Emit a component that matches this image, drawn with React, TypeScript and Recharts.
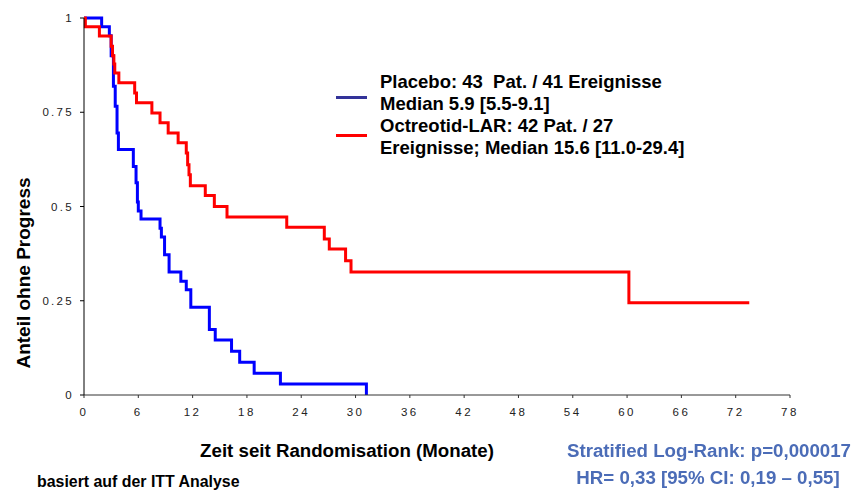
import React from "react";
import { LineChart, Line, XAxis, YAxis, Legend } from "recharts";

// Kaplan-Meier steps (months, share without progression)
const placeboMonths = [
  0, 1.95, 2.8, 3.0, 3.25, 3.45, 3.65, 3.8, 5.45, 5.75, 5.9, 6.0, 6.3, 8.4,
  8.55, 8.9, 9.4, 10.7, 11.3, 11.8, 13.85, 14.5, 16.3, 17.2, 18.8, 21.7, 31.2,
];
const placeboSurvival = [
  1, 0.977, 0.953, 0.9, 0.819, 0.766, 0.695, 0.651, 0.606, 0.563, 0.512,
  0.488, 0.467, 0.442, 0.419, 0.372, 0.326, 0.302, 0.279, 0.233, 0.174, 0.146,
  0.116, 0.087, 0.058, 0.029, 0,
];

const octreotidMonths = [
  0, 0.15, 1.7, 3.0, 3.15, 3.3, 3.4, 3.85, 5.6, 5.8, 7.5, 8.4, 9.3, 10.4,
  11.3, 11.45, 11.6, 11.75, 13.4, 14.4, 15.8, 22.4, 26.55, 27.1, 28.9, 29.5,
  60.2, 73.5,
];
const octreotidSurvival = [
  1, 0.977, 0.952, 0.925, 0.9, 0.878, 0.854, 0.828, 0.801, 0.775, 0.748,
  0.722, 0.695, 0.669, 0.642, 0.611, 0.584, 0.555, 0.529, 0.5, 0.472, 0.445,
  0.414, 0.387, 0.356, 0.326, 0.245, 0.245,
];

const monthTicks = [0, 6, 12, 18, 24, 30, 36, 42, 48, 54, 60, 66, 72, 78];
const shareTicks = [0, 0.25, 0.5, 0.75, 1];

const legendItems = [
  {
    color: "#333399",
    lines: ["Placebo: 43  Pat. / 41 Ereignisse", "Median 5.9 [5.5-9.1]"],
    markerTop: 25,
  },
  {
    color: "#ff0000",
    lines: ["Octreotid-LAR: 42 Pat. / 27", "Ereignisse; Median 15.6 [11.0-29.4]"],
    markerTop: 63,
  },
];

const FONT = '"Liberation Sans", Arial, Helvetica, sans-serif';

const placeboData = placeboMonths.map((t, i) => ({ t, s: placeboSurvival[i] }));
const octreotidData = octreotidMonths.map((t, i) => ({
  t,
  s: octreotidSurvival[i],
}));

const renderLegend = () => (
  <div
    style={{
      position: "relative",
      width: 420,
      height: 88,
      fontFamily: FONT,
      fontWeight: "bold",
      fontSize: 18.5,
      lineHeight: "22px",
      color: "#000",
    }}
  >
    {legendItems.map((item, i) => (
      <React.Fragment key={i}>
        <div
          style={{
            position: "absolute",
            left: 0,
            top: item.markerTop,
            width: 31,
            height: 3,
            background: item.color,
          }}
        />
        {item.lines.map((line, j) => (
          <div
            key={j}
            style={{
              position: "absolute",
              left: 44,
              top: (i * 2 + j) * 22,
              whiteSpace: "pre",
            }}
          >
            {line}
          </div>
        ))}
      </React.Fragment>
    ))}
  </div>
);

const textStyle: React.CSSProperties = {
  position: "absolute",
  fontFamily: FONT,
  fontWeight: "bold",
  lineHeight: 1,
  whiteSpace: "nowrap",
};

export default function App() {
  return (
    <div
      style={{
        position: "fixed",
        left: 0,
        top: 0,
        width: 853,
        height: 494,
        background: "#fff",
      }}
    >
      <LineChart
        width={853}
        height={494}
        margin={{ top: 18, right: 63, bottom: 69, left: 0 }}
      >
        <XAxis
          dataKey="t"
          type="number"
          domain={[0, 78]}
          ticks={monthTicks}
          interval={0}
          height={30}
          tickSize={3}
          tickMargin={10}
          stroke="#333"
          tick={{ fontSize: 11.5, fill: "#222", fontFamily: FONT, letterSpacing: 2.5 }}
        />
        <YAxis
          type="number"
          domain={[0, 1]}
          ticks={shareTicks}
          interval={0}
          width={84}
          tickSize={4}
          tickMargin={6}
          stroke="#000"
          tick={{ fontSize: 11.5, fill: "#222", fontFamily: FONT, letterSpacing: 2.3 }}
        />
        <Legend
          layout="vertical"
          align="center"
          verticalAlign="middle"
          wrapperStyle={{ left: 336, top: 71 }}
          content={renderLegend}
        />
        <Line
          data={placeboData}
          dataKey="s"
          name="Placebo"
          type="stepAfter"
          stroke="#0000ff"
          strokeWidth={3}
          dot={false}
          activeDot={false}
          isAnimationActive={false}
        />
        <Line
          data={octreotidData}
          dataKey="s"
          name="Octreotid-LAR"
          type="stepAfter"
          stroke="#ff0000"
          strokeWidth={3}
          dot={false}
          activeDot={false}
          isAnimationActive={false}
        />
      </LineChart>

      <div
        style={{
          ...textStyle,
          fontSize: 19,
          left: 24 - 150,
          top: 273 - 12,
          width: 300,
          height: 24,
          lineHeight: "24px",
          textAlign: "center",
          transform: "rotate(-90deg)",
        }}
      >
        Anteil ohne Progress
      </div>
      <div
        style={{
          ...textStyle,
          fontSize: 18.7,
          left: 197,
          top: 441.5,
          width: 300,
          textAlign: "center",
        }}
      >
        Zeit seit Randomisation (Monate)
      </div>
      <div style={{ ...textStyle, fontSize: 15.9, left: 37, top: 474 }}>
        basiert auf der ITT Analyse
      </div>
      <div
        style={{
          ...textStyle,
          fontSize: 18.7,
          color: "#4b6cb7",
          left: 559,
          top: 441.5,
          width: 300,
          textAlign: "center",
        }}
      >
        Stratified Log-Rank: p=0,000017
      </div>
      <div
        style={{
          ...textStyle,
          fontSize: 18.7,
          color: "#4b6cb7",
          left: 558,
          top: 468.5,
          width: 300,
          textAlign: "center",
        }}
      >
        HR= 0,33 [95% CI: 0,19 – 0,55]
      </div>
    </div>
  );
}
